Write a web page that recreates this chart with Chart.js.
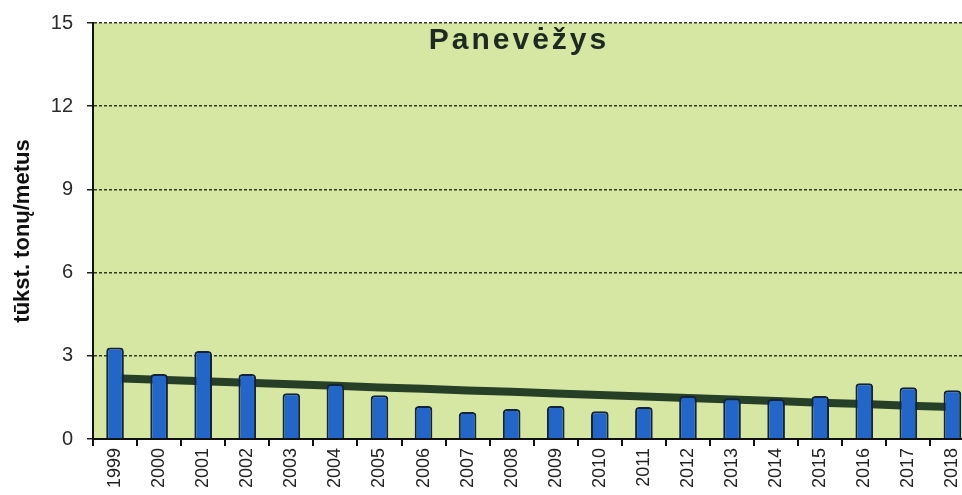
<!DOCTYPE html>
<html>
<head>
<meta charset="utf-8">
<title>Panevėžys</title>
<script src="https://cdn.jsdelivr.net/npm/chart.js@4/dist/chart.umd.min.js"></script>
<style>
  html, body { margin: 0; padding: 0; background: #fff; overflow: hidden; }
  #wrap { position: relative; width: 962px; height: 495px; overflow: hidden; }
  #chart-box { position: absolute; left: 0; top: -3px; width: 976px; height: 498px; }
  #city {
    position: absolute; left: 389px; top: 22px; width: 260px; text-align: center;
    font: bold 30px "Liberation Sans", Arial, sans-serif; color: #1c2a22;
    letter-spacing: 3px;
  }
</style>
</head>
<body>
<div id="wrap">
  <div id="chart-box"><canvas id="waste-chart" width="976" height="498"></canvas></div>
  <div id="city">Panevėžys</div>
</div>
<script>
// Years and yearly amounts, thousand tonnes per year
const years = ['1999', '2000', '2001', '2002', '2003', '2004', '2005', '2006', '2007', '2008',
               '2009', '2010', '2011', '2012', '2013', '2014', '2015', '2016', '2017', '2018'];
const amounts = [3.30, 2.34, 3.17, 2.34, 1.65, 1.98, 1.58, 1.19, 0.97, 1.08,
                 1.19, 1.00, 1.15, 1.55, 1.47, 1.44, 1.55, 2.01, 1.87, 1.76];
// Trend line values per year
const trend = [2.19, 2.14, 2.08, 2.03, 1.97, 1.92, 1.86, 1.81, 1.75, 1.70,
               1.64, 1.59, 1.53, 1.48, 1.42, 1.37, 1.31, 1.26, 1.20, 1.15];
const yTicks = [0, 3, 6, 9, 12, 15];

// green plot background
const plotBg = {
  id: 'plotBg',
  beforeDraw(chart) {
    const { ctx, chartArea: a } = chart;
    ctx.save();
    ctx.fillStyle = '#d6e6a3';
    ctx.fillRect(a.left, a.top, a.right - a.left, a.bottom - a.top);
    ctx.restore();
  }
};

const canvas = document.getElementById('waste-chart');
const ctx = canvas.getContext('2d');

new Chart(canvas, {
  type: 'bar',
  data: {
    labels: years,
    datasets: [
      {
        type: 'bar',
        data: amounts,
        order: 0,
        backgroundColor: (c) => {
          const bar = c.element;
          if (!bar || bar.x === undefined) return '#2466c8';
          const g = ctx.createLinearGradient(bar.x - 9, 0, bar.x + 9, 0);
          g.addColorStop(0, '#1a4d9e');
          g.addColorStop(0.45, '#2c78db');
          g.addColorStop(1, '#1a4d9e');
          return g;
        },
        borderColor: '#15233a',
        borderWidth: 2,
        borderSkipped: 'bottom',
        borderRadius: 4,
        barPercentage: 0.40,
        categoryPercentage: 1
      },
      {
        type: 'line',
        data: trend,
        order: 1,
        borderColor: '#263f26',
        borderWidth: 8,
        pointRadius: 0,
        tension: 0
      }
    ]
  },
  options: {
    responsive: false,
    animation: false,
    layout: { padding: { top: 14, right: 0, left: 0, bottom: 0 } },
    plugins: {
      legend: { display: false },
      tooltip: { enabled: false }
    },
    scales: {
      x: {
        offset: true,
        grid: {
          offset: true,
          drawOnChartArea: false,
          drawTicks: true,
          tickLength: 7,
          color: '#111',
          lineWidth: 2
        },
        border: { color: '#111', width: 2 },
        ticks: {
          color: '#222',
          minRotation: 90,
          maxRotation: 90,
          padding: 2,
          font: { family: '"Liberation Sans", Arial, sans-serif', size: 18 }
        },
        afterFit(s) { s.height = 56; }
      },
      y: {
        min: 0,
        max: 15,
        afterBuildTicks(s) { s.ticks = yTicks.map(v => ({ value: v })); },
        grid: {
          color: '#2e3b1e',
          lineWidth: 1.5,
          tickLength: 6,
          tickColor: '#222'
        },
        border: { color: '#111', width: 2, dash: [3, 2] },
        ticks: {
          color: '#2a2a2a',
          padding: 14,
          font: { family: '"Liberation Sans", Arial, sans-serif', size: 20 }
        },
        title: {
          display: true,
          text: 'tūkst. tonų/metus',
          color: '#111',
          padding: { top: 10, bottom: 4 },
          font: { family: '"Liberation Sans", Arial, sans-serif', size: 22, weight: 'bold' }
        },
        afterFit(s) { s.width = 93; }
      }
    }
  },
  plugins: [plotBg]
});
</script>
</body>
</html>
